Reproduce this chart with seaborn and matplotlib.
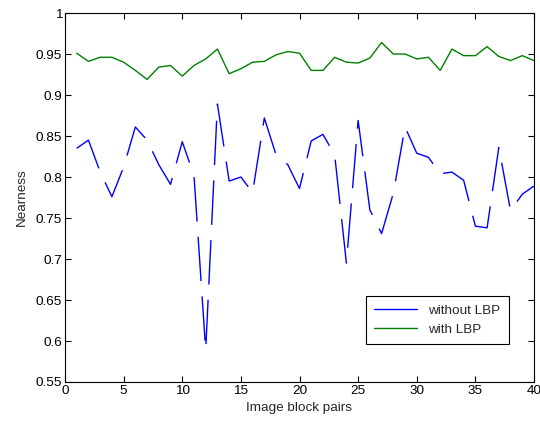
import numpy as np
import pandas as pd
import matplotlib
matplotlib.use("Agg")
import matplotlib.pyplot as plt
import seaborn as sns

pairs = list(range(1, 41))
without_lbp = [0.835, 0.845, 0.806, 0.776, 0.812, 0.861, 0.845, 0.815, 0.791, 0.843,
               0.802, 0.589, 0.889, 0.795, 0.800, 0.781, 0.872, 0.827, 0.815, 0.786,
               0.844, 0.852, 0.827, 0.695, 0.869, 0.760, 0.731, 0.780, 0.861, 0.829,
               0.824, 0.804, 0.806, 0.796, 0.740, 0.738, 0.836, 0.759, 0.779, 0.789]
with_lbp = [0.951, 0.941, 0.946, 0.946, 0.940, 0.930, 0.919, 0.934, 0.936, 0.923,
            0.936, 0.944, 0.956, 0.926, 0.932, 0.940, 0.941, 0.949, 0.953, 0.951,
            0.930, 0.930, 0.946, 0.940, 0.939, 0.945, 0.964, 0.950, 0.950, 0.944,
            0.946, 0.930, 0.956, 0.948, 0.948, 0.959, 0.947, 0.942, 0.948, 0.942]
series_names = ["without LBP", "with LBP"]
yticks = [0.55, 0.6, 0.65, 0.7, 0.75, 0.8, 0.85, 0.9, 0.95, 1]
ytick_labels = ["0.55", "0.6", "0.65", "0.7", "0.75", "0.8", "0.85", "0.9", "0.95", "1"]
xticks = [0, 5, 10, 15, 20, 25, 30, 35, 40]

df = pd.DataFrame({
    "pair": pairs * 2,
    "nearness": without_lbp + with_lbp,
    "method": [series_names[0]] * 40 + [series_names[1]] * 40,
})

sns.set_style("ticks")
plt.rcParams["font.family"] = ["Liberation Sans", "DejaVu Sans"]

fig = plt.figure(figsize=(5.4, 4.21), dpi=100)
ax = fig.add_axes([65 / 540, 1 - 382 / 421, 469 / 540, 369 / 421])

sns.lineplot(
    data=df, x="pair", y="nearness", hue="method", style="method",
    palette={"without LBP": "#0000ff", "with LBP": "#008000"},
    dashes={"without LBP": (32, 11), "with LBP": ""},
    linewidth=1.0, ax=ax, legend=True,
)

ax.set_xlim(0, 40)
ax.set_ylim(0.55, 1)
ax.set_xticks(xticks)
ax.set_yticks(yticks)
ax.set_yticklabels(ytick_labels)
ax.tick_params(direction="in", top=True, right=True, length=4.5, width=0.8,
               labelsize=9.7, colors="black", pad=2)
for s in ax.spines.values():
    s.set_visible(True)
    s.set_color("black")
    s.set_linewidth(0.8)

ax.set_xlabel("Image block pairs", fontsize=9.7, labelpad=4)
ax.set_ylabel("Nearness", fontsize=9.7, labelpad=6)

handles, labels = ax.get_legend_handles_labels()
leg = ax.legend(handles, labels, loc="lower right", bbox_to_anchor=(0.947, 0.102),
                fontsize=9.7, frameon=True, fancybox=False, handlelength=3.2,
                borderaxespad=0, borderpad=0.65, labelspacing=0.45)
leg.get_frame().set_edgecolor("black")
leg.get_frame().set_linewidth(0.8)
leg.get_frame().set_alpha(1)
for h in leg.get_lines():
    h.set_linestyle("-")

fig.savefig("out.png", dpi=100)
